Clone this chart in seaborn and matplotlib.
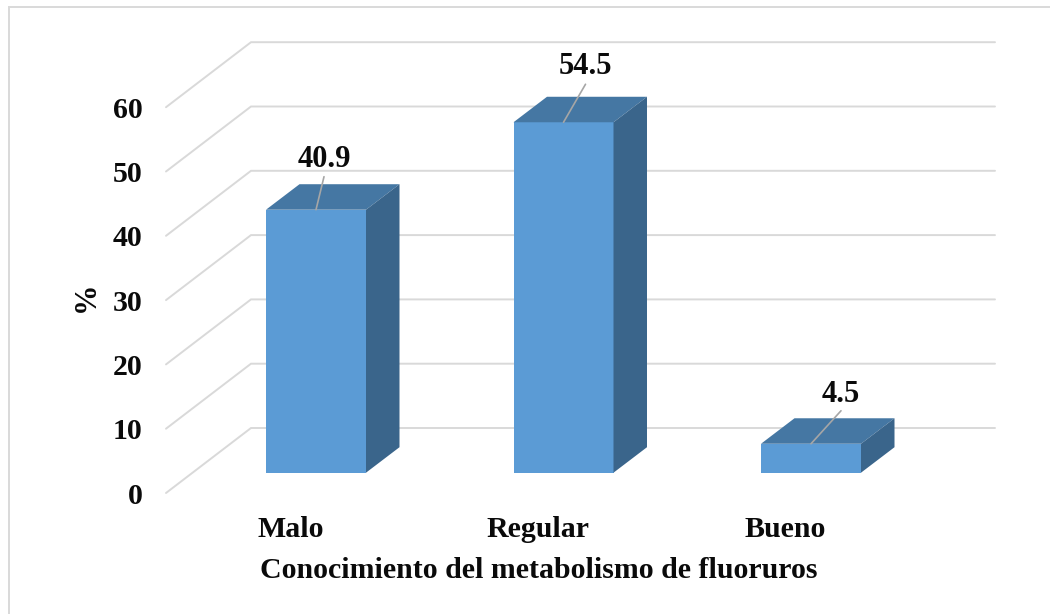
import matplotlib
matplotlib.use("Agg")
import matplotlib.pyplot as plt
import pandas as pd
import seaborn as sns
from matplotlib.lines import Line2D

categories = ["Malo", "Regular", "Bueno"]
values = [40.9, 54.5, 4.5]
value_labels = ["40.9", "54.5", "4.5"]
y_ticks = [0, 10, 20, 30, 40, 50, 60]
x_title = "Conocimiento del metabolismo de fluoruros"
y_title = "%"

FRONT = "#5B9BD5"
TOP = "#4577A3"
SIDE = "#3A658B"
GRID = "#D9D9D9"
INK = "#0A0A0A"

sns.set_theme(style="white")
plt.rcParams["font.family"] = ["Liberation Serif", "DejaVu Serif"]
plt.rcParams["font.weight"] = "bold"

W, H = 1050, 614
PX_CAT = 247.5
PX_UNIT = 6.43
fig = plt.figure(figsize=(W / 100, H / 100), dpi=100)
L, R, T, B = 166, 995, 42, 493
ax = fig.add_axes([L / W, 1 - B / H, (R - L) / W, (B - T) / H])

df = pd.DataFrame({"cat": categories, "val": values})
sns.barplot(data=df, x="cat", y="val", ax=ax, color=FRONT, saturation=1,
            width=100 / PX_CAT, zorder=3, edgecolor="none")

ax.set_xlim((L - 316) / PX_CAT, (R - 316) / PX_CAT)
ax.set_ylim((472.7 - B) / PX_UNIT, (472.7 - T) / PX_UNIT)

# depth offsets (bar plane -> wall / floor edge) in data units
bar_dx, bar_dy = 33.5 / PX_CAT, 25.5 / PX_UNIT
front_dy = (472.7 - B) / PX_UNIT
back_dy = (472.7 - 428) / PX_UNIT
back_x = (251 - 316) / PX_CAT
x0, x1 = ax.get_xlim()

for v in y_ticks:
    ax.plot([x0, back_x, x1], [v + front_dy, v + back_dy, v + back_dy],
            color=GRID, lw=1.4, zorder=1, clip_on=False, solid_joinstyle="miter")

half = 50 / PX_CAT
offsets = [(8, 33, 50), (22, 38, 56), (30, 33, 49)]
for i, v in enumerate(values):
    ax.fill([i - half, i + half, i + half + bar_dx, i - half + bar_dx],
            [v, v, v + bar_dy, v + bar_dy], color=TOP, lw=0, zorder=3)
    ax.fill([i + half, i + half + bar_dx, i + half + bar_dx, i + half],
            [0, bar_dy, v + bar_dy, v], color=SIDE, lw=0, zorder=3)
    dx, ly, ty = offsets[i]
    ax.annotate("", xy=(i, v), xytext=(dx * 0.72, ly * 0.72), textcoords="offset points",
                arrowprops=dict(arrowstyle="-", color="#A6A6A6", lw=1.2, shrinkA=0, shrinkB=0),
                zorder=4)
    ax.annotate(value_labels[i], xy=(i, v), xytext=(dx * 0.72, ty * 0.72),
                textcoords="offset points", ha="center", va="center",
                fontsize=22, fontweight="bold", color=INK, zorder=5)

ax.set_yticks([v + front_dy for v in y_ticks], [str(v) for v in y_ticks])
ax.set_xticks([i - 25.5 / PX_CAT for i in range(len(categories))], categories)
ax.tick_params(axis="y", length=0, pad=17, labelsize=21.5, labelcolor=INK)
ax.tick_params(axis="x", length=0, pad=16.5, labelsize=21.5, labelcolor=INK)
for lab in ax.get_xticklabels() + ax.get_yticklabels():
    lab.set_fontweight("bold")

ax.set_xlabel(x_title, fontsize=21.5, fontweight="bold", color=INK)
ax.xaxis.set_label_coords((538.5 - L) / (R - L), (B - 557) / (B - T))
ax.set_ylabel(y_title, fontsize=22, fontweight="bold", color=INK)
ax.yaxis.set_label_coords((101 - L) / (R - L), (B - 297) / (B - T))

sns.despine(ax=ax, left=True, bottom=True)
ax.patch.set_alpha(0)
ax.grid(False)

fig.add_artist(Line2D([9 / W, 9 / W, 1], [0, 1 - 7 / H, 1 - 7 / H], color=GRID, lw=1.4,
                      solid_joinstyle="miter"))
fig.savefig("out.png", dpi=100, facecolor="white")
